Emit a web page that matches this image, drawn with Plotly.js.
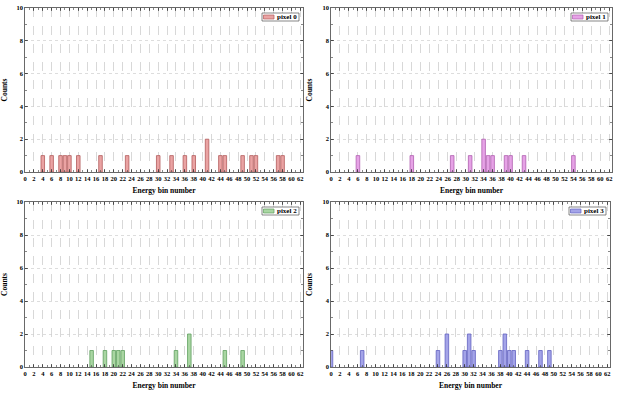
<!DOCTYPE html>
<html>
<head>
<meta charset="utf-8">
<script src="https://cdn.plot.ly/plotly-3.0.1.min.js"></script>
<style>html,body{margin:0;padding:0;background:#fff;}#chart{width:621px;height:393px;}</style>
</head>
<body>
<div id="chart"></div>
<script>
// Energy bins with non-zero counts per pixel
const pixel0Bins   = [4, 6, 8, 9, 10, 12, 17, 23, 30, 33, 36, 38, 41, 44, 45, 49, 51, 52, 57, 58];
const pixel0Counts = [1, 1, 1, 1, 1, 1, 1, 1, 1, 1, 1, 1, 2, 1, 1, 1, 1, 1, 1, 1];
const pixel1Bins   = [6, 18, 27, 31, 34, 35, 36, 39, 40, 43, 54];
const pixel1Counts = [1, 1, 1, 1, 2, 1, 1, 1, 1, 1, 1];
const pixel2Bins   = [15, 18, 20, 21, 22, 34, 37, 45, 49];
const pixel2Counts = [1, 1, 1, 1, 1, 1, 2, 1, 1];
const pixel3Bins   = [0, 7, 24, 26, 30, 31, 32, 38, 39, 40, 41, 44, 47, 49];
const pixel3Counts = [1, 1, 1, 2, 1, 2, 1, 1, 2, 1, 1, 1, 1, 1];
const seriesNames  = ["pixel 0", "pixel 1", "pixel 2", "pixel 3"];
const xTickVals = [];
for (let v = 0; v <= 62; v += 2) xTickVals.push(v);
const yTickVals = [0, 2, 4, 6, 8, 10];

const fills = ["#eaa3a3", "#e6a2e6", "#a9d6a2", "#a4a4e8"];
const lines = ["#b35c5c", "#b060b0", "#5f9f5f", "#6262c0"];
const bins = [pixel0Bins, pixel1Bins, pixel2Bins, pixel3Bins];
const counts = [pixel0Counts, pixel1Counts, pixel2Counts, pixel3Counts];

const W = 621, H = 393;
const px = v => v / W;
const py = v => 1 - v / H;
// panel frames in pixels [left, right, top, bottom]
const frames = [[25, 303, 8, 172], [331, 612, 8, 172], [25, 303, 202, 367], [331, 610, 202, 367]];

const data = [];
const shapes = [];
const annotations = [];
const layout = {
  width: W, height: H,
  margin: {l: 0, r: 0, t: 0, b: 0},
  paper_bgcolor: "#fff", plot_bgcolor: "#fff",
  font: {family: "Liberation Serif", size: 7, color: "#000"},
  showlegend: false,
  shapes: shapes, annotations: annotations
};

for (let i = 0; i < 4; i++) {
  const sfx = i === 0 ? "" : String(i + 1);
  const [L, R, T, B] = frames[i];
  data.push({
    type: "bar",
    x: bins[i], y: counts[i],
    name: seriesNames[i],
    width: 0.8,
    marker: {color: fills[i], line: {color: lines[i], width: 0.8}},
    xaxis: "x" + sfx, yaxis: "y" + sfx
  });
  layout["xaxis" + sfx] = {
    domain: [px(L), px(R)], anchor: "y" + sfx,
    range: [0, 62.6],
    tickmode: "array", tickvals: xTickVals, tickangle: 0,
    tickfont: {family: "Liberation Serif", size: 6.5, color: "#000", weight: "bold"},
    ticks: "inside", ticklen: 3, tickcolor: "#333", tickwidth: 0.7,
    minor: {dtick: 1, ticks: "inside", ticklen: 2, tickcolor: "#555", showgrid: false},
    showgrid: true, gridcolor: "#c8c8c8", gridwidth: 0.7, griddash: "dash",
    showline: true, linecolor: "#444", linewidth: 0.8, mirror: "ticks",
    zeroline: false,
    title: {text: "<b>Energy bin number</b>", font: {family: "Liberation Serif", size: 7.5, color: "#000"}, standoff: 7}
  };
  layout["yaxis" + sfx] = {
    domain: [py(B), py(T)], anchor: "x" + sfx,
    range: [0, 10],
    tickmode: "array", tickvals: yTickVals,
    tickfont: {family: "Liberation Serif", size: 6.5, color: "#000", weight: "bold"},
    ticks: "inside", ticklen: 3, tickcolor: "#333", tickwidth: 0.7,
    minor: {dtick: 1, ticks: "inside", ticklen: 2, tickcolor: "#555", showgrid: false},
    showgrid: true, gridcolor: "#cfcfcf", gridwidth: 0.7, griddash: "dot",
    showline: true, linecolor: "#444", linewidth: 0.8, mirror: "ticks",
    zeroline: false,
    title: {text: "<b>Counts</b>", font: {family: "Liberation Serif", size: 7.5, color: "#000"}, standoff: 8}
  };
  // legend box
  const bR = R - 4, bL = bR - 37, bT = T + 5, bB = bT + 8;
  shapes.push({type: "rect", xref: "paper", yref: "paper", x0: px(bL), x1: px(bR), y0: py(bB), y1: py(bT),
    line: {color: "#555", width: 0.7}, fillcolor: "#fff"});
  shapes.push({type: "rect", xref: "paper", yref: "paper", x0: px(bL + 1.5), x1: px(bL + 12), y0: py(bB - 2), y1: py(bT + 2),
    line: {color: lines[i], width: 0.7}, fillcolor: fills[i]});
  annotations.push({xref: "paper", yref: "paper", x: px(bL + 13), y: py((bT + bB) / 2),
    xanchor: "left", yanchor: "middle", showarrow: false, text: "<b>" + seriesNames[i] + "</b>",
    font: {family: "Liberation Serif", size: 7, color: "#000"}});
}

Plotly.newPlot("chart", data, layout, {displayModeBar: false, staticPlot: true});
</script>
</body>
</html>
